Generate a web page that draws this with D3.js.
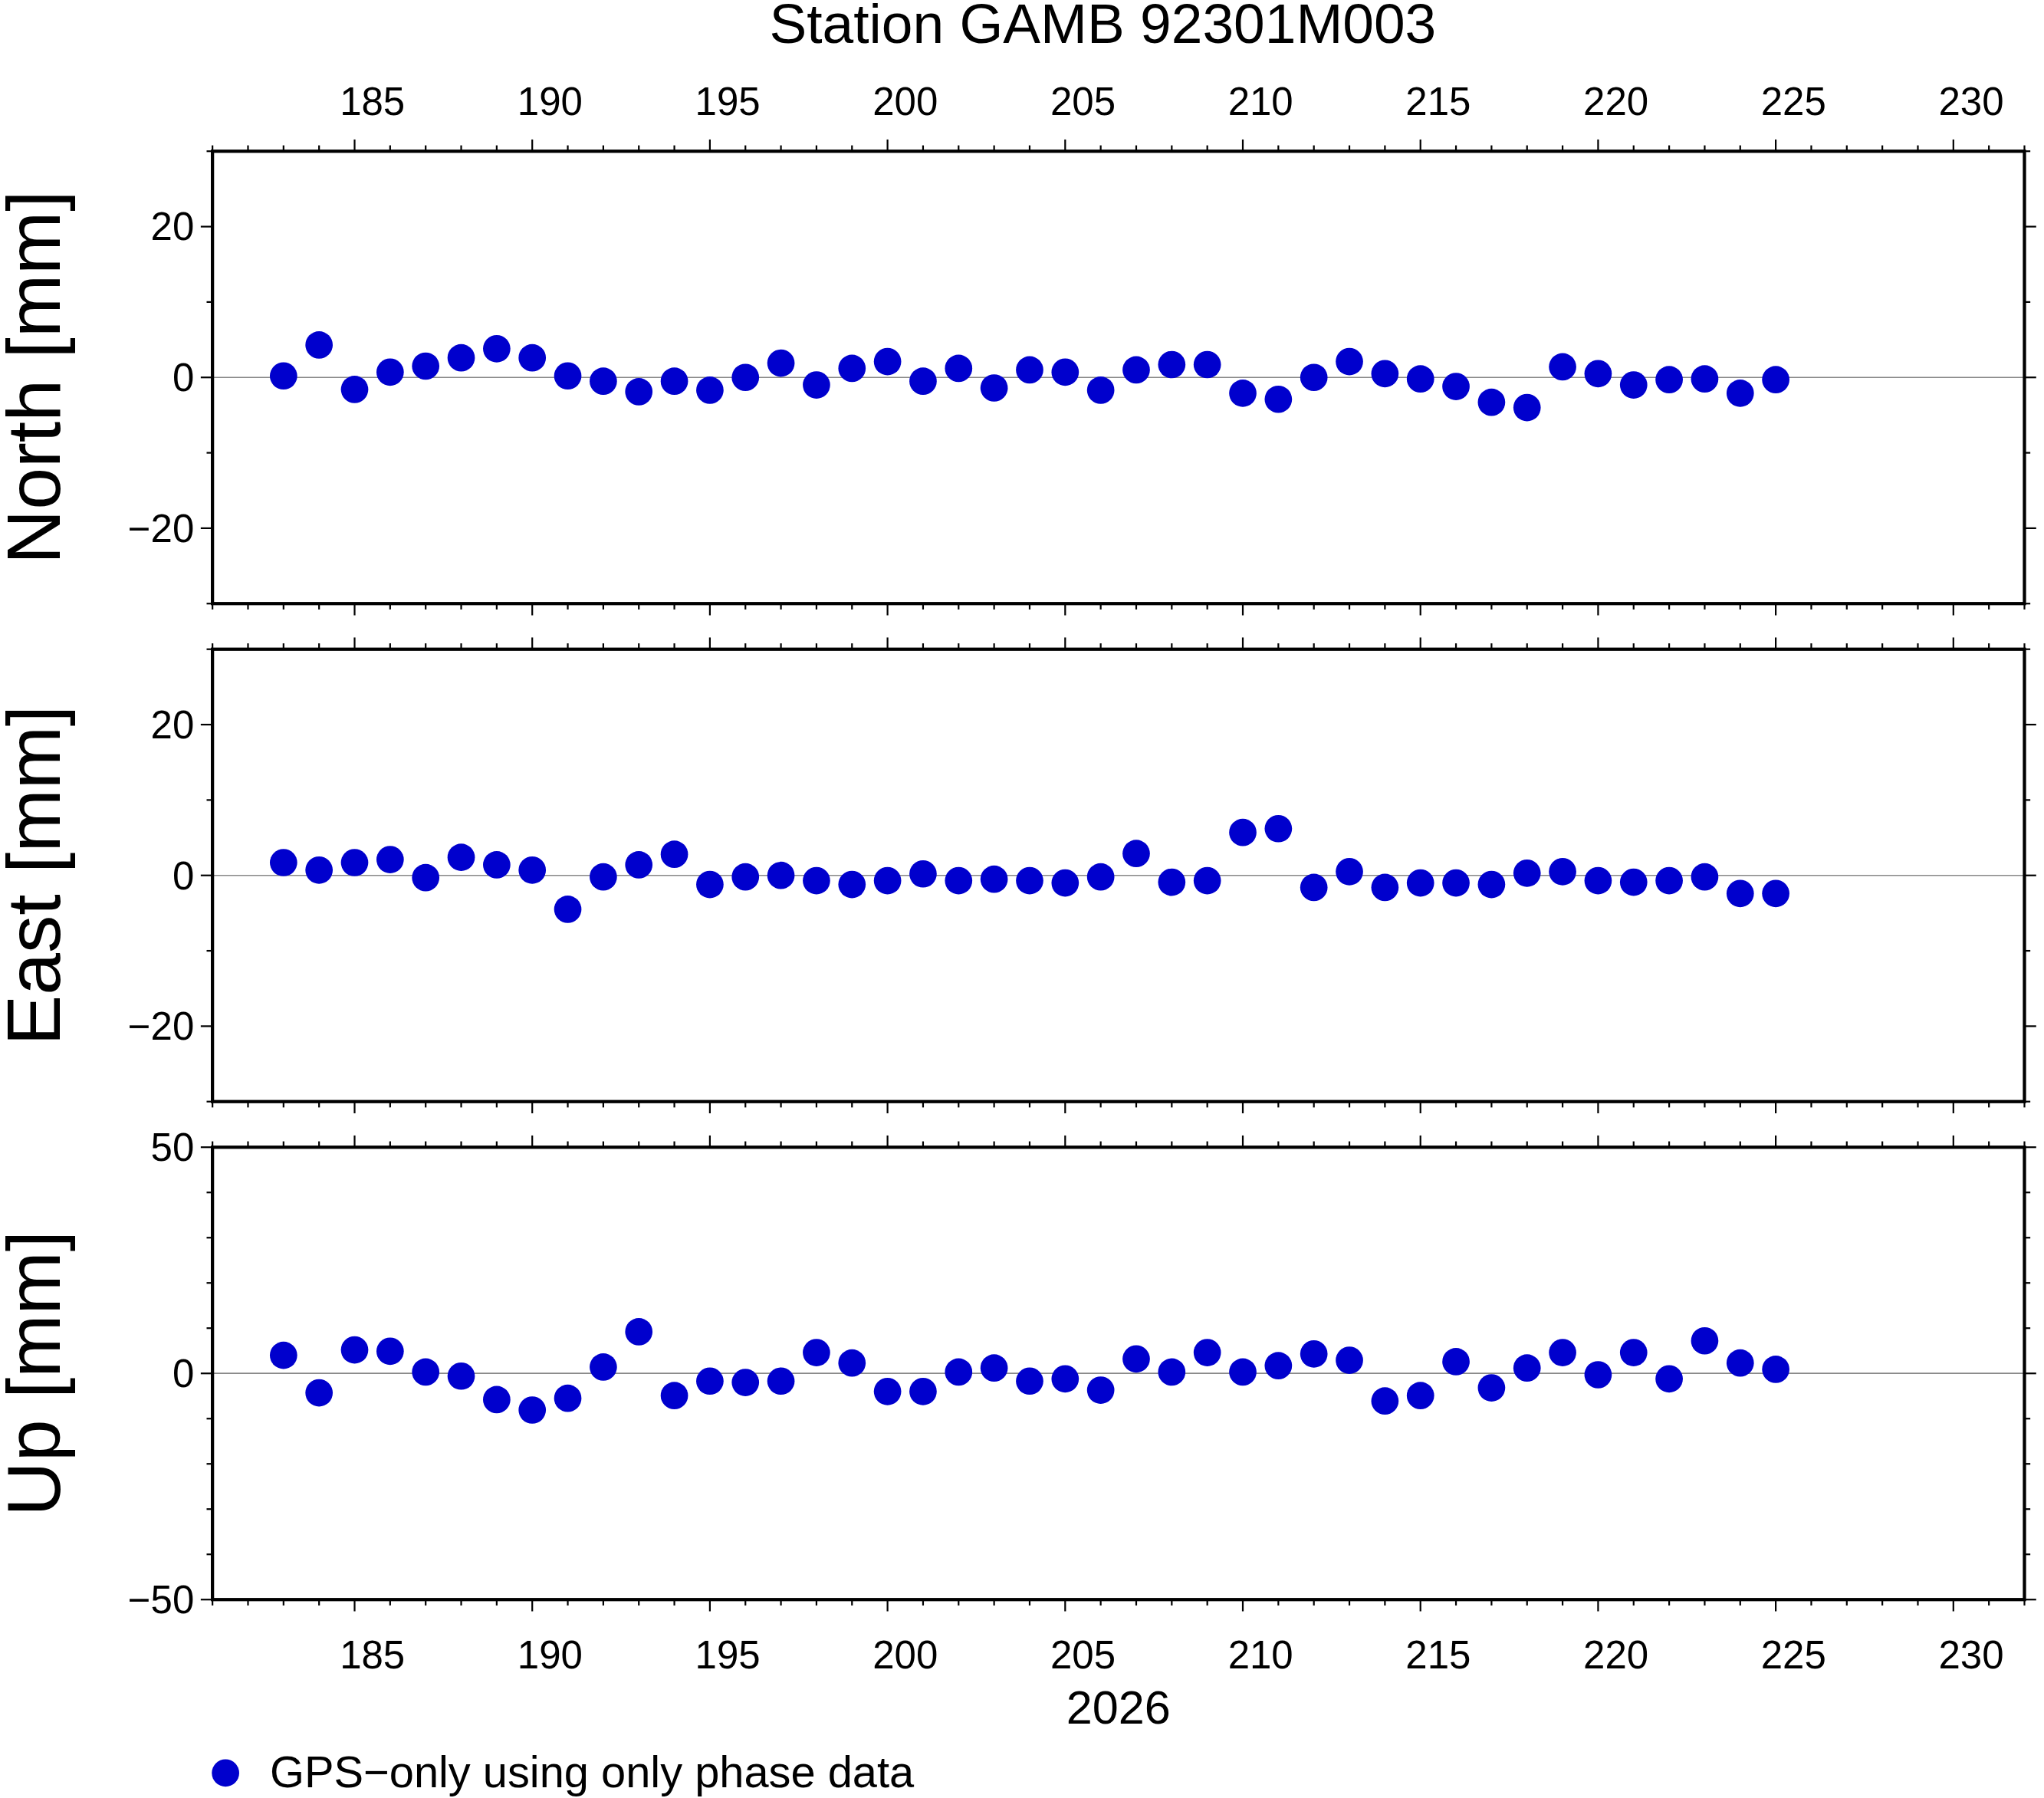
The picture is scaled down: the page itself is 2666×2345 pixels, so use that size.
<!DOCTYPE html>
<html><head><meta charset="utf-8">
<script src="https://cdn.jsdelivr.net/npm/d3@7"></script>
<style>body{margin:0;background:#fff}text{font-family:"Liberation Sans",Arial,sans-serif}</style>
</head><body><div id="canvas"></div>
<script>
const days = d3.range(183, 226);
const north = [0.2,4.3,-1.6,0.7,1.5,2.6,3.8,2.6,0.2,-0.5,-1.9,-0.5,-1.7,0,1.9,-1,1.2,2.1,-0.5,1.2,-1.4,1,0.7,-1.7,1,1.7,1.7,-2.1,-2.9,0,2.1,0.5,-0.2,-1.2,-3.3,-4,1.4,0.5,-1,-0.3,-0.2,-2.1,-0.3];
const east = [1.7,0.7,1.7,2.1,-0.3,2.4,1.4,0.7,-4.5,-0.2,1.4,2.8,-1.2,-0.2,0,-0.7,-1.2,-0.7,0.2,-0.7,-0.5,-0.7,-1,-0.2,2.9,-0.9,-0.7,5.7,6.2,-1.6,0.5,-1.6,-1,-1,-1.2,0.3,0.5,-0.7,-0.9,-0.7,-0.2,-2.4,-2.4];
const up = [4,-4.3,5.2,4.9,0.3,-0.6,-5.8,-8.1,-5.5,1.4,9.2,-4.9,-1.7,-2,-1.7,4.6,2.3,-4,-4,0.3,1.2,-1.7,-1.2,-3.7,3.2,0.3,4.6,0.3,1.7,4.3,2.9,-6.1,-4.9,2.6,-3.2,1.2,4.6,-0.3,4.6,-1.2,7.2,2.3,0.9];
const xTicks = [185,190,195,200,205,210,215,220,225,230];
const panels = [
  {label:"North [mm]", vals:north, dom:[-30,30], major:[-20,0,20], minor:10, top:116},
  {label:"East [mm]", vals:east, dom:[-30,30], major:[-20,0,20], minor:10, top:498},
  {label:"Up [mm]", vals:up, dom:[-50,50], major:[-50,0,50], minor:10, top:880}
];
const W = 1568, H = 1379.2, L = 163, R = 1553, PH = 347;
const svg = d3.select("#canvas").append("svg")
  .attr("width", 2666).attr("height", 2345).attr("viewBox", `0 0 ${W} ${H}`);
const x = d3.scaleLinear().domain([181, 232]).range([L, R]);
const fmt = d => d < 0 ? "\u2212" + (-d) : "" + d;

svg.append("text").attr("x", 846).attr("y", 33).attr("text-anchor", "middle")
  .attr("font-size", 43).text("Station GAMB 92301M003");

panels.forEach((p, i) => {
  const y = d3.scaleLinear().domain(p.dom).range([p.top + PH, p.top]);
  const g = svg.append("g");
  g.append("line").attr("x1", L).attr("x2", R).attr("y1", y(0)).attr("y2", y(0))
    .attr("stroke", "#888").attr("stroke-width", 1);
  [p.top, p.top + PH].forEach((yy, k) => {
    const dir = k === 0 ? -1 : 1;
    d3.range(181, 233).forEach(d => {
      const len = d % 5 === 0 ? 9 : 4.5;
      g.append("line").attr("x1", x(d)).attr("x2", x(d)).attr("y1", yy).attr("y2", yy + dir * len)
        .attr("stroke", "#000").attr("stroke-width", 1.3);
    });
  });
  const minors = d3.range(p.dom[0], p.dom[1] + 0.001, p.minor);
  [L, R].forEach((xx, k) => {
    const dir = k === 0 ? -1 : 1;
    minors.forEach(v => {
      const len = p.major.includes(v) ? 9 : 4.5;
      g.append("line").attr("x1", xx).attr("x2", xx + dir * len).attr("y1", y(v)).attr("y2", y(v))
        .attr("stroke", "#000").attr("stroke-width", 1.3);
    });
  });
  p.major.forEach(v => {
    g.append("text").attr("x", L - 14).attr("y", y(v)).attr("dy", "0.35em")
      .attr("text-anchor", "end").attr("font-size", 30).text(fmt(v));
  });
  g.append("text").attr("transform", `translate(46,${p.top + PH / 2}) rotate(-90)`)
    .attr("text-anchor", "middle").attr("font-size", 58).text(p.label);
  g.selectAll("circle").data(p.vals).join("circle")
    .attr("cx", (d, j) => x(days[j])).attr("cy", d => y(d)).attr("r", 10.5).attr("fill", "#0000cd");
  g.append("rect").attr("x", L).attr("y", p.top).attr("width", R - L).attr("height", PH)
    .attr("fill", "none").attr("stroke", "#000").attr("stroke-width", 2.5);
  if (i === 0 || i === 2) {
    const ty = i === 0 ? p.top - 28 : p.top + PH + 53;
    xTicks.forEach(d => {
      g.append("text").attr("x", x(d + 0.5)).attr("y", ty).attr("text-anchor", "middle")
        .attr("font-size", 30).text(d);
    });
  }
});
svg.append("text").attr("x", 858).attr("y", 1322).attr("text-anchor", "middle")
  .attr("font-size", 36).text("2026");
svg.append("circle").attr("cx", 173).attr("cy", 1360).attr("r", 10.5).attr("fill", "#0000cd");
svg.append("text").attr("x", 207).attr("y", 1371).attr("font-size", 34).text("GPS\u2212only using only phase data");
</script></body></html>
